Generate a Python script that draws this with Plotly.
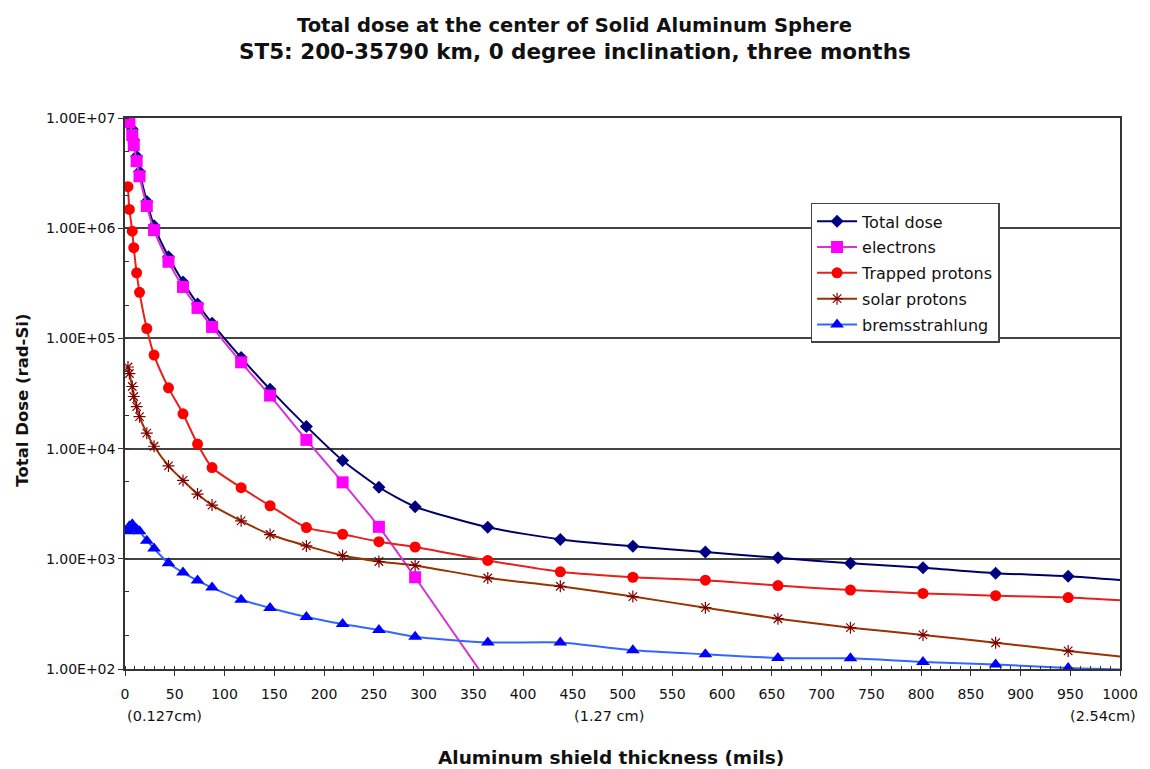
import plotly.graph_objects as go

# Shield thickness (mils of aluminum) for each computed depth
thickness_mils = [3, 4.4, 7.3, 8.8, 11.7, 14.6, 21.9, 29.2, 43.7, 58.3, 72.9, 87.5,
                  116.7, 145.8, 182.3, 218.7, 255.2, 291.6, 364.6, 437.5, 510.4,
                  583.3, 656.2, 729.1, 802.0, 875.0, 947.9, 1020.8]

# Dose components (rad-Si)
total_dose = [1.2e7, 1.1e7, 7.9e6, 6.3e6, 4.5e6, 3.25e6, 1.75e6, 1.05e6, 5.5e5, 3.25e5,
              2.05e5, 1.37e5, 6.7e4, 3.45e4, 1.59e4, 7.8e3, 4.46e3, 2.97e3, 1.93e3,
              1.5e3, 1.3e3, 1.15e3, 1.02e3, 9.1e2, 8.3e2, 7.4e2, 6.95e2, 6.2e2]
electrons = [9.8e6, 9.2e6, 7.0e6, 5.67e6, 4.06e6, 2.96e6, 1.59e6, 9.6e5, 4.96e5, 2.93e5,
             1.89e5, 1.27e5, 6.07e4, 3.03e4, 1.2e4, 4.94e3, 1.95e3, 6.8e2, 76]
trapped_protons = [2.38e6, 1.48e6, 9.4e5, 6.66e5, 3.94e5, 2.62e5, 1.23e5, 7.06e4, 3.56e4,
                   2.07e4, 1.1e4, 6.73e3, 4.42e3, 3.03e3, 1.92e3, 1.67e3, 1.43e3, 1.28e3,
                   9.67e2, 7.62e2, 6.8e2, 6.4e2, 5.72e2, 5.2e2, 4.85e2, 4.63e2, 4.45e2, 4.1e2]
solar_protons = [5.5e4, 4.8e4, 3.66e4, 2.97e4, 2.4e4, 1.95e4, 1.38e4, 1.05e4, 6.97e3,
                 5.14e3, 3.87e3, 3.07e3, 2.21e3, 1.66e3, 1.31e3, 1.07e3, 9.45e2, 8.7e2,
                 6.7e2, 5.63e2, 4.54e2, 3.6e2, 2.86e2, 2.37e2, 2.04e2, 1.73e2, 1.46e2, 1.24e2]
bremsstrahlung = [1.78e3, 1.97e3, 2.06e3, 1.93e3, 1.85e3, 1.78e3, 1.46e3, 1.24e3, 9.1e2,
                  7.5e2, 6.35e2, 5.48e2, 4.26e2, 3.58e2, 2.97e2, 2.56e2, 2.26e2, 1.96e2,
                  1.74e2, 1.74e2, 1.48e2, 1.36e2, 1.26e2, 1.25e2, 1.16e2, 1.1e2, 1.02e2, 98]

series_names = ["Total dose", "electrons", "Trapped protons", "solar protons", "bremsstrahlung"]

y_tick_values = [1e2, 1e3, 1e4, 1e5, 1e6, 1e7]
y_tick_text = ["1.00E+02", "1.00E+03", "1.00E+04", "1.00E+05", "1.00E+06", "1.00E+07"]

cm_labels = ["(0.127cm)", "(1.27 cm)", "(2.54cm)"]

title_lines = ["Total dose at the center of Solid Aluminum Sphere",
               "ST5: 200-35790 km, 0 degree inclination, three months"]

FONT = "DejaVu Sans, Verdana, sans-serif"
INK = "#111"

styles = [
    dict(line=dict(color="#000066", width=2), marker=dict(symbol="diamond", size=10, color="#000080")),
    dict(line=dict(color="#D633D6", width=2), marker=dict(symbol="square", size=12, color="#FF00FF")),
    dict(line=dict(color="#E8201C", width=2), marker=dict(symbol="circle", size=11, color="#FF0000")),
    dict(line=dict(color="#993300", width=2),
         marker=dict(symbol="asterisk-open", size=10, color="#800000", line=dict(width=1.2, color="#7A2A1A"))),
    dict(line=dict(color="#3366FF", width=2), marker=dict(symbol="triangle-up", size=12, color="#0000FF")),
]

series_values = [total_dose, electrons, trapped_protons, solar_protons, bremsstrahlung]

fig = go.Figure()
for name, values, st in zip(series_names, series_values, styles):
    fig.add_trace(go.Scatter(
        x=thickness_mils[:len(values)], y=values, name=name, mode="lines+markers",
        line=dict(shape="spline", smoothing=0.6, **st["line"]), marker=st["marker"],
        legendgroup=name,
    ))

fig.update_layout(
    width=1150, height=769,
    margin=dict(l=125, r=26, t=118, b=100),
    paper_bgcolor="white", plot_bgcolor="white",
    font=dict(family=FONT, size=14, color=INK),
    showlegend=True,
    legend=dict(
        x=0.689, y=0.846, xanchor="left", yanchor="top",
        bgcolor="white", bordercolor="#444", borderwidth=1.5,
        font=dict(family=FONT, size=16, color=INK),
        traceorder="grouped", tracegroupgap=2,
        itemwidth=40,
    ),
)

fig.update_xaxes(
    range=[0, 1000], dtick=50, tick0=0,
    showgrid=False, zeroline=False,
    showline=True, linecolor="#333", linewidth=1.5, mirror=True,
    ticks="outside", ticklen=5, tickcolor="#333", tickwidth=1.2,
    ticklabelstandoff=6,
    minor=dict(dtick=10, ticks="inside", ticklen=3, tickcolor="#333"),
    tickfont=dict(family=FONT, size=14, color=INK),
)
fig.update_yaxes(
    type="log", range=[2, 7],
    tickvals=y_tick_values, ticktext=y_tick_text,
    showgrid=True, gridcolor="#444", gridwidth=1.5,
    zeroline=False,
    showline=True, linecolor="#333", linewidth=1.5, mirror=True,
    ticks="outside", ticklen=5, tickcolor="#333", tickwidth=1.2,
    minor=dict(ticks="inside", ticklen=4, tickcolor="#333", showgrid=False),
    tickfont=dict(family=FONT, size=14, color=INK),
)

# Two-line chart title
fig.add_annotation(text="<b>%s</b>" % title_lines[0], x=0.452, y=1.167, xref="paper", yref="paper",
                   xanchor="center", yanchor="middle", showarrow=False,
                   font=dict(family=FONT, size=19.5, color=INK))
fig.add_annotation(text="<b>%s</b>" % title_lines[1], x=0.452, y=1.1198, xref="paper", yref="paper",
                   xanchor="center", yanchor="middle", showarrow=False,
                   font=dict(family=FONT, size=21.5, color=INK))

# Centimetre equivalents under the mil scale
fig.add_annotation(text=cm_labels[0], x=0, y=-0.085, xref="x", yref="paper",
                   xanchor="left", yanchor="middle", showarrow=False, xshift=0,
                   font=dict(family=FONT, size=14.5, color=INK))
fig.add_annotation(text=cm_labels[1], x=486, y=-0.085, xref="x", yref="paper",
                   xanchor="center", yanchor="middle", showarrow=False,
                   font=dict(family=FONT, size=14.5, color=INK))
fig.add_annotation(text=cm_labels[2], x=1000, y=-0.085, xref="x", yref="paper",
                   xanchor="right", yanchor="middle", showarrow=False, xshift=18,
                   font=dict(family=FONT, size=14.5, color=INK))

# Axis titles
fig.add_annotation(text="<b>Aluminum shield thickness (mils)</b>", x=0.4885, y=-0.16,
                   xref="paper", yref="paper", xanchor="center", yanchor="middle",
                   showarrow=False, font=dict(family=FONT, size=18.5, color=INK))
fig.add_annotation(text="<b>Total Dose (rad-Si)</b>", x=-0.103, y=0.488, textangle=-90,
                   xref="paper", yref="paper", xanchor="center", yanchor="middle",
                   showarrow=False, font=dict(family=FONT, size=16.5, color=INK))

fig.write_html("out.html")
